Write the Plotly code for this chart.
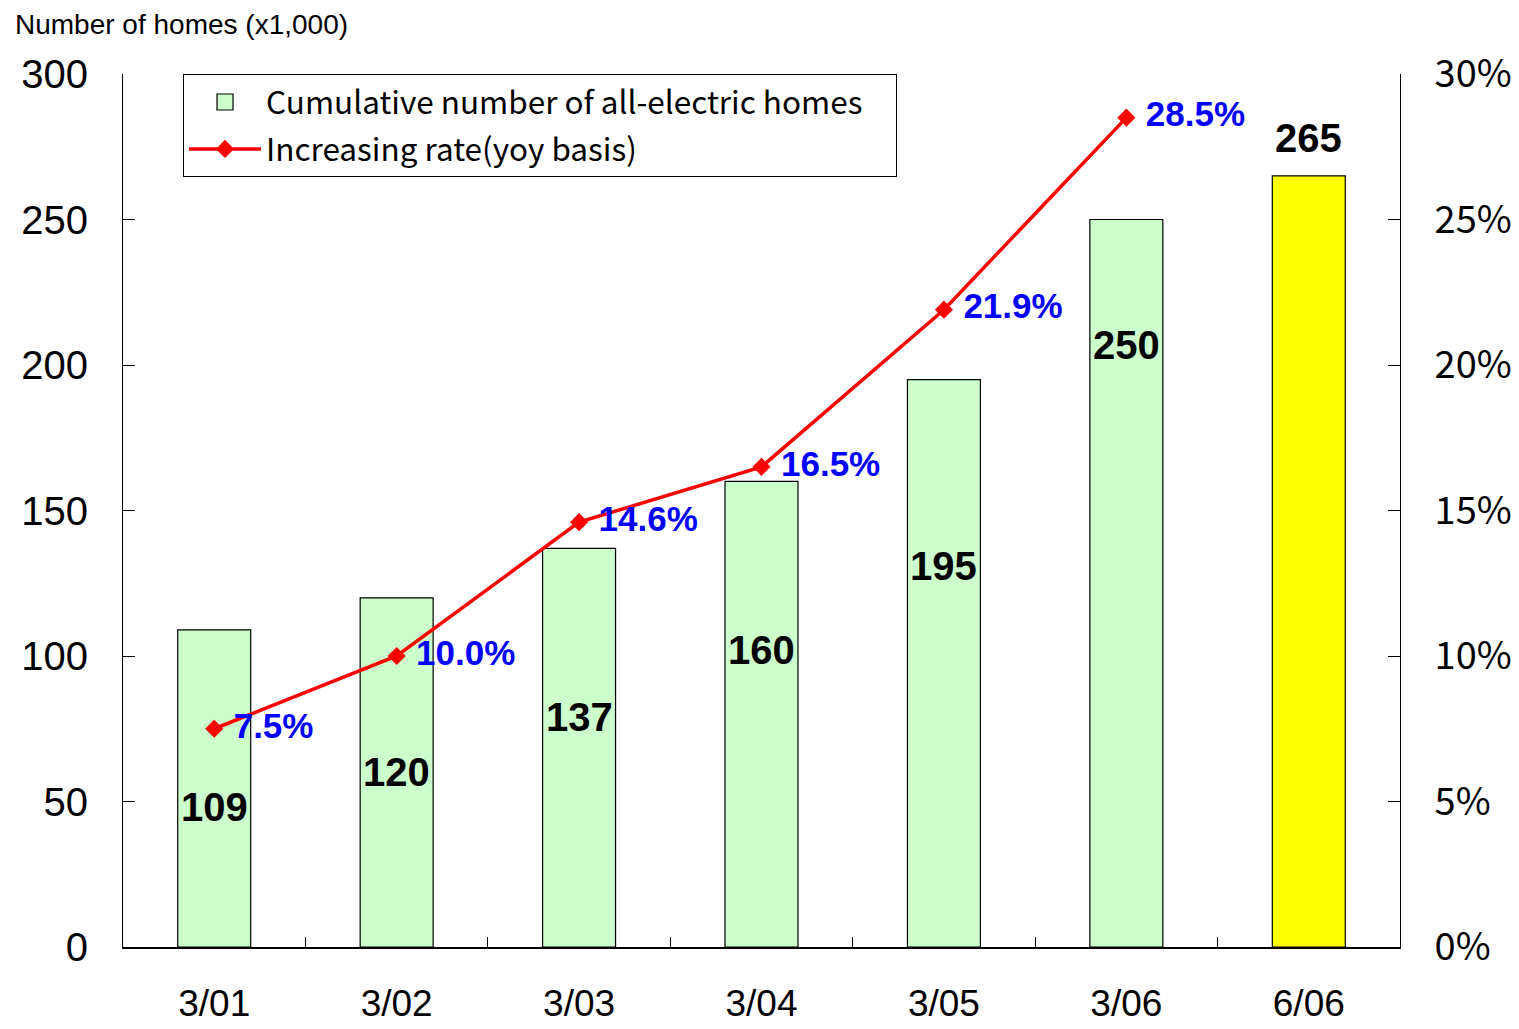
import plotly.graph_objects as go

categories = ["3/01", "3/02", "3/03", "3/04", "3/05", "3/06", "6/06"]
homes = [109, 120, 137, 160, 195, 250, 265]
rate = [0.075, 0.100, 0.146, 0.165, 0.219, 0.285, None]
rate_labels = ["7.5%", "10.0%", "14.6%", "16.5%", "21.9%", "28.5%", ""]

# layout: vertical placement of the bar value labels (data units)
label_y = [48, 60, 79, 102, 131, 207, 278]

bar_colors = ["#CCFFCC"] * 6 + ["#FFFF00"]

fig = go.Figure()
fig.add_trace(go.Bar(
    x=categories, y=homes, name="Cumulative number of all-electric homes",
    marker=dict(color=bar_colors, line=dict(color="black", width=1.2)),
    width=0.4, showlegend=False,
))
# legend entry for the bars (larger swatch)
fig.add_trace(go.Scatter(
    x=[None], y=[None], name="Cumulative number of all-electric homes" + "\u00a0" * 4,
    mode="markers", legendgroup="a",
    marker=dict(symbol="square", size=16, color="#CCFFCC", line=dict(color="black", width=1.2)),
))
fig.add_trace(go.Scatter(
    x=categories, y=rate, name="Increasing rate(yoy basis)", yaxis="y2",
    mode="lines+markers+text", text=["\u00a0" + t if t else t for t in rate_labels],
    textposition="middle right", legendgroup="b",
    textfont=dict(family="Arial, Liberation Sans", size=35, color="#0000FF", weight="bold"),
    line=dict(color="#FF0000", width=3.5),
    marker=dict(symbol="diamond", size=14, color="#FF0000"),
    cliponaxis=False,
))

annotations = []
for c, v, ly in zip(categories, homes, label_y):
    annotations.append(dict(
        x=c, y=ly, xref="x", yref="y", text=f"<b>{v}</b>", showarrow=False,
        font=dict(family="Arial, Liberation Sans", size=40, color="black"),
        xanchor="center", yanchor="middle",
    ))
annotations.append(dict(
    x=-0.086, y=1.057, xref="paper", yref="paper", text="Number of homes (x1,000)",
    showarrow=False, xanchor="left", yanchor="middle",
    font=dict(family="Arial, Liberation Sans", size=28, color="black"),
))

fig.update_layout(
    width=1511, height=1021,
    margin=dict(l=115, r=119, t=66, b=82),
    paper_bgcolor="white", plot_bgcolor="white",
    bargap=0.6,
    showlegend=True,
    legend=dict(
        x=0.047, y=1.0, xanchor="left", yanchor="top",
        bordercolor="black", borderwidth=1, bgcolor="white",
        font=dict(family="Noto Sans CJK JP", size=31.5, color="black"),
        itemwidth=72, tracegroupgap=3, itemsizing="trace",
    ),
    xaxis=dict(
        type="category", showline=True, linecolor="black", linewidth=1.5,
        ticks="inside", tickson="boundaries", ticklen=10, tickcolor="black",
        tickfont=dict(family="Arial, Liberation Sans", size=37, color="black"),
        showgrid=False, zeroline=False, ticklabelstandoff=23, automargin=False,
    ),
    yaxis=dict(
        range=[0, 300], dtick=50, showline=True, linecolor="black", linewidth=1,
        ticks="inside", ticklen=12, tickcolor="black",
        tickfont=dict(family="Arial, Liberation Sans", size=40, color="black"),
        showgrid=False, zeroline=False, ticklabelstandoff=26, automargin=False,
    ),
    yaxis2=dict(
        range=[0, 0.30], dtick=0.05, tickformat=".0%", overlaying="y", side="right",
        showline=True, linecolor="black", linewidth=1,
        ticks="inside", ticklen=12, tickcolor="black",
        tickfont=dict(family="Noto Sans CJK JP", size=38, color="black"),
        showgrid=False, zeroline=False, ticklabelstandoff=26, automargin=False,
    ),
    annotations=annotations,
)

fig.write_html("out.html")
